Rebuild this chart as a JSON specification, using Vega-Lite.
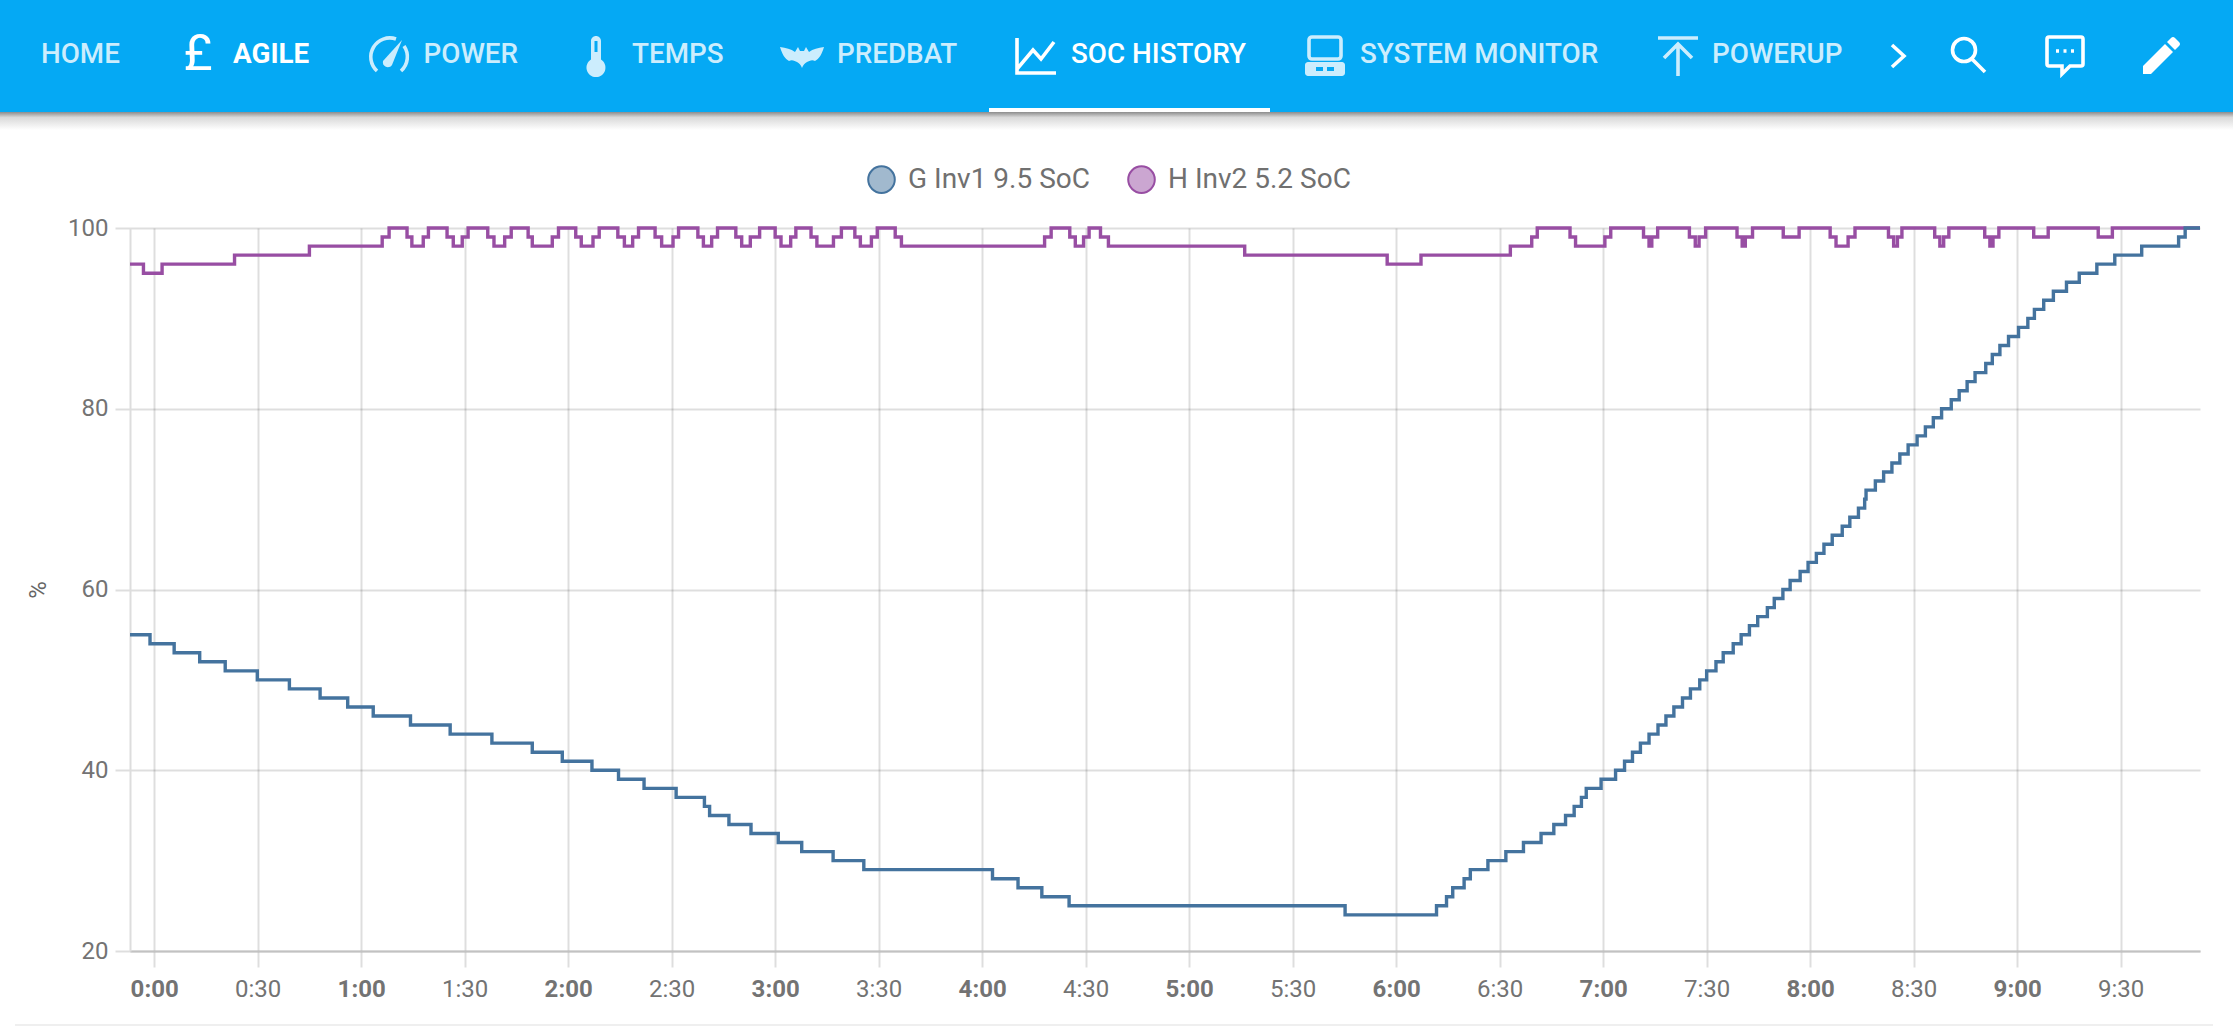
{
  "$schema": "https://vega.github.io/schema/vega-lite/v6.json",
  "width": 2070,
  "height": 723,
  "autosize": {"type": "none"},
  "padding": {"left": 130, "top": 228, "right": 33, "bottom": 76},
  "background": "#ffffff",
  "config": {
    "view": {"stroke": null},
    "font": "Roboto"
  },
  "datasets": {
    "soc": [
      {"series": "H Inv2 5.2 SoC", "minute": -7, "soc": 96},
      {"series": "H Inv2 5.2 SoC", "minute": -3.1, "soc": 95},
      {"series": "H Inv2 5.2 SoC", "minute": 2.3, "soc": 96},
      {"series": "H Inv2 5.2 SoC", "minute": 23.3, "soc": 97},
      {"series": "H Inv2 5.2 SoC", "minute": 45, "soc": 98},
      {"series": "H Inv2 5.2 SoC", "minute": 66.1, "soc": 99},
      {"series": "H Inv2 5.2 SoC", "minute": 68.1, "soc": 100},
      {"series": "H Inv2 5.2 SoC", "minute": 73.3, "soc": 99},
      {"series": "H Inv2 5.2 SoC", "minute": 74.7, "soc": 98},
      {"series": "H Inv2 5.2 SoC", "minute": 78, "soc": 99},
      {"series": "H Inv2 5.2 SoC", "minute": 79.5, "soc": 100},
      {"series": "H Inv2 5.2 SoC", "minute": 84.9, "soc": 99},
      {"series": "H Inv2 5.2 SoC", "minute": 86.7, "soc": 98},
      {"series": "H Inv2 5.2 SoC", "minute": 89.3, "soc": 99},
      {"series": "H Inv2 5.2 SoC", "minute": 91, "soc": 100},
      {"series": "H Inv2 5.2 SoC", "minute": 96.7, "soc": 99},
      {"series": "H Inv2 5.2 SoC", "minute": 98.5, "soc": 98},
      {"series": "H Inv2 5.2 SoC", "minute": 101.6, "soc": 99},
      {"series": "H Inv2 5.2 SoC", "minute": 103.5, "soc": 100},
      {"series": "H Inv2 5.2 SoC", "minute": 108.4, "soc": 99},
      {"series": "H Inv2 5.2 SoC", "minute": 109.6, "soc": 98},
      {"series": "H Inv2 5.2 SoC", "minute": 115.4, "soc": 99},
      {"series": "H Inv2 5.2 SoC", "minute": 117.2, "soc": 100},
      {"series": "H Inv2 5.2 SoC", "minute": 122.2, "soc": 99},
      {"series": "H Inv2 5.2 SoC", "minute": 123.8, "soc": 98},
      {"series": "H Inv2 5.2 SoC", "minute": 127.2, "soc": 99},
      {"series": "H Inv2 5.2 SoC", "minute": 129, "soc": 100},
      {"series": "H Inv2 5.2 SoC", "minute": 134.4, "soc": 99},
      {"series": "H Inv2 5.2 SoC", "minute": 136.3, "soc": 98},
      {"series": "H Inv2 5.2 SoC", "minute": 138.7, "soc": 99},
      {"series": "H Inv2 5.2 SoC", "minute": 140.4, "soc": 100},
      {"series": "H Inv2 5.2 SoC", "minute": 145.2, "soc": 99},
      {"series": "H Inv2 5.2 SoC", "minute": 147.1, "soc": 98},
      {"series": "H Inv2 5.2 SoC", "minute": 150.4, "soc": 99},
      {"series": "H Inv2 5.2 SoC", "minute": 152, "soc": 100},
      {"series": "H Inv2 5.2 SoC", "minute": 157.6, "soc": 99},
      {"series": "H Inv2 5.2 SoC", "minute": 159.2, "soc": 98},
      {"series": "H Inv2 5.2 SoC", "minute": 161.6, "soc": 99},
      {"series": "H Inv2 5.2 SoC", "minute": 163.3, "soc": 100},
      {"series": "H Inv2 5.2 SoC", "minute": 168.6, "soc": 99},
      {"series": "H Inv2 5.2 SoC", "minute": 170.3, "soc": 98},
      {"series": "H Inv2 5.2 SoC", "minute": 172.8, "soc": 99},
      {"series": "H Inv2 5.2 SoC", "minute": 175.5, "soc": 100},
      {"series": "H Inv2 5.2 SoC", "minute": 180, "soc": 99},
      {"series": "H Inv2 5.2 SoC", "minute": 181.7, "soc": 98},
      {"series": "H Inv2 5.2 SoC", "minute": 184.5, "soc": 99},
      {"series": "H Inv2 5.2 SoC", "minute": 186, "soc": 100},
      {"series": "H Inv2 5.2 SoC", "minute": 190.4, "soc": 99},
      {"series": "H Inv2 5.2 SoC", "minute": 192.1, "soc": 98},
      {"series": "H Inv2 5.2 SoC", "minute": 196.9, "soc": 99},
      {"series": "H Inv2 5.2 SoC", "minute": 199.2, "soc": 100},
      {"series": "H Inv2 5.2 SoC", "minute": 203.1, "soc": 99},
      {"series": "H Inv2 5.2 SoC", "minute": 204.7, "soc": 98},
      {"series": "H Inv2 5.2 SoC", "minute": 207.9, "soc": 99},
      {"series": "H Inv2 5.2 SoC", "minute": 209.6, "soc": 100},
      {"series": "H Inv2 5.2 SoC", "minute": 214.8, "soc": 99},
      {"series": "H Inv2 5.2 SoC", "minute": 216.6, "soc": 98},
      {"series": "H Inv2 5.2 SoC", "minute": 258.1, "soc": 99},
      {"series": "H Inv2 5.2 SoC", "minute": 260, "soc": 100},
      {"series": "H Inv2 5.2 SoC", "minute": 265.4, "soc": 99},
      {"series": "H Inv2 5.2 SoC", "minute": 267, "soc": 98},
      {"series": "H Inv2 5.2 SoC", "minute": 269.4, "soc": 99},
      {"series": "H Inv2 5.2 SoC", "minute": 271, "soc": 100},
      {"series": "H Inv2 5.2 SoC", "minute": 274.3, "soc": 99},
      {"series": "H Inv2 5.2 SoC", "minute": 276.6, "soc": 98},
      {"series": "H Inv2 5.2 SoC", "minute": 316.1, "soc": 97},
      {"series": "H Inv2 5.2 SoC", "minute": 357.4, "soc": 96},
      {"series": "H Inv2 5.2 SoC", "minute": 367.2, "soc": 97},
      {"series": "H Inv2 5.2 SoC", "minute": 393.1, "soc": 98},
      {"series": "H Inv2 5.2 SoC", "minute": 399.3, "soc": 99},
      {"series": "H Inv2 5.2 SoC", "minute": 400.9, "soc": 100},
      {"series": "H Inv2 5.2 SoC", "minute": 410.4, "soc": 99},
      {"series": "H Inv2 5.2 SoC", "minute": 412, "soc": 98},
      {"series": "H Inv2 5.2 SoC", "minute": 420.5, "soc": 99},
      {"series": "H Inv2 5.2 SoC", "minute": 422.2, "soc": 100},
      {"series": "H Inv2 5.2 SoC", "minute": 431.7, "soc": 99},
      {"series": "H Inv2 5.2 SoC", "minute": 433.3, "soc": 98},
      {"series": "H Inv2 5.2 SoC", "minute": 434.1, "soc": 99},
      {"series": "H Inv2 5.2 SoC", "minute": 435.8, "soc": 100},
      {"series": "H Inv2 5.2 SoC", "minute": 445, "soc": 99},
      {"series": "H Inv2 5.2 SoC", "minute": 446.7, "soc": 98},
      {"series": "H Inv2 5.2 SoC", "minute": 447.8, "soc": 99},
      {"series": "H Inv2 5.2 SoC", "minute": 449.7, "soc": 100},
      {"series": "H Inv2 5.2 SoC", "minute": 458.8, "soc": 99},
      {"series": "H Inv2 5.2 SoC", "minute": 460.3, "soc": 98},
      {"series": "H Inv2 5.2 SoC", "minute": 461.2, "soc": 99},
      {"series": "H Inv2 5.2 SoC", "minute": 463.3, "soc": 100},
      {"series": "H Inv2 5.2 SoC", "minute": 472.2, "soc": 99},
      {"series": "H Inv2 5.2 SoC", "minute": 476.8, "soc": 100},
      {"series": "H Inv2 5.2 SoC", "minute": 485.8, "soc": 99},
      {"series": "H Inv2 5.2 SoC", "minute": 487.5, "soc": 98},
      {"series": "H Inv2 5.2 SoC", "minute": 491, "soc": 99},
      {"series": "H Inv2 5.2 SoC", "minute": 493, "soc": 100},
      {"series": "H Inv2 5.2 SoC", "minute": 502.7, "soc": 99},
      {"series": "H Inv2 5.2 SoC", "minute": 504.2, "soc": 98},
      {"series": "H Inv2 5.2 SoC", "minute": 505.3, "soc": 99},
      {"series": "H Inv2 5.2 SoC", "minute": 506.6, "soc": 100},
      {"series": "H Inv2 5.2 SoC", "minute": 516.1, "soc": 99},
      {"series": "H Inv2 5.2 SoC", "minute": 517.6, "soc": 98},
      {"series": "H Inv2 5.2 SoC", "minute": 518.7, "soc": 99},
      {"series": "H Inv2 5.2 SoC", "minute": 520.2, "soc": 100},
      {"series": "H Inv2 5.2 SoC", "minute": 530.6, "soc": 99},
      {"series": "H Inv2 5.2 SoC", "minute": 532.1, "soc": 98},
      {"series": "H Inv2 5.2 SoC", "minute": 533, "soc": 99},
      {"series": "H Inv2 5.2 SoC", "minute": 534.7, "soc": 100},
      {"series": "H Inv2 5.2 SoC", "minute": 544.8, "soc": 99},
      {"series": "H Inv2 5.2 SoC", "minute": 549, "soc": 100},
      {"series": "H Inv2 5.2 SoC", "minute": 563.5, "soc": 99},
      {"series": "H Inv2 5.2 SoC", "minute": 567.6, "soc": 100},
      {"series": "H Inv2 5.2 SoC", "minute": 593, "soc": 100},
      {"series": "G Inv1 9.5 SoC", "minute": -7, "soc": 55},
      {"series": "G Inv1 9.5 SoC", "minute": -1.2, "soc": 54},
      {"series": "G Inv1 9.5 SoC", "minute": 5.8, "soc": 53},
      {"series": "G Inv1 9.5 SoC", "minute": 13.2, "soc": 52},
      {"series": "G Inv1 9.5 SoC", "minute": 20.6, "soc": 51},
      {"series": "G Inv1 9.5 SoC", "minute": 29.9, "soc": 50},
      {"series": "G Inv1 9.5 SoC", "minute": 39.2, "soc": 49},
      {"series": "G Inv1 9.5 SoC", "minute": 48.1, "soc": 48},
      {"series": "G Inv1 9.5 SoC", "minute": 56.1, "soc": 47},
      {"series": "G Inv1 9.5 SoC", "minute": 63.5, "soc": 46},
      {"series": "G Inv1 9.5 SoC", "minute": 74.3, "soc": 45},
      {"series": "G Inv1 9.5 SoC", "minute": 85.8, "soc": 44},
      {"series": "G Inv1 9.5 SoC", "minute": 97.9, "soc": 43},
      {"series": "G Inv1 9.5 SoC", "minute": 109.6, "soc": 42},
      {"series": "G Inv1 9.5 SoC", "minute": 118.3, "soc": 41},
      {"series": "G Inv1 9.5 SoC", "minute": 126.9, "soc": 40},
      {"series": "G Inv1 9.5 SoC", "minute": 134.6, "soc": 39},
      {"series": "G Inv1 9.5 SoC", "minute": 142, "soc": 38},
      {"series": "G Inv1 9.5 SoC", "minute": 151.3, "soc": 37},
      {"series": "G Inv1 9.5 SoC", "minute": 159.5, "soc": 36},
      {"series": "G Inv1 9.5 SoC", "minute": 161, "soc": 35},
      {"series": "G Inv1 9.5 SoC", "minute": 166.6, "soc": 34},
      {"series": "G Inv1 9.5 SoC", "minute": 173, "soc": 33},
      {"series": "G Inv1 9.5 SoC", "minute": 180.9, "soc": 32},
      {"series": "G Inv1 9.5 SoC", "minute": 187.7, "soc": 31},
      {"series": "G Inv1 9.5 SoC", "minute": 196.8, "soc": 30},
      {"series": "G Inv1 9.5 SoC", "minute": 205.7, "soc": 29},
      {"series": "G Inv1 9.5 SoC", "minute": 243, "soc": 28},
      {"series": "G Inv1 9.5 SoC", "minute": 250.4, "soc": 27},
      {"series": "G Inv1 9.5 SoC", "minute": 257.3, "soc": 26},
      {"series": "G Inv1 9.5 SoC", "minute": 265.2, "soc": 25},
      {"series": "G Inv1 9.5 SoC", "minute": 345.2, "soc": 24},
      {"series": "G Inv1 9.5 SoC", "minute": 371.7, "soc": 25},
      {"series": "G Inv1 9.5 SoC", "minute": 374.6, "soc": 26},
      {"series": "G Inv1 9.5 SoC", "minute": 376.4, "soc": 27},
      {"series": "G Inv1 9.5 SoC", "minute": 379.7, "soc": 28},
      {"series": "G Inv1 9.5 SoC", "minute": 381.5, "soc": 29},
      {"series": "G Inv1 9.5 SoC", "minute": 386.6, "soc": 30},
      {"series": "G Inv1 9.5 SoC", "minute": 391.8, "soc": 31},
      {"series": "G Inv1 9.5 SoC", "minute": 396.9, "soc": 32},
      {"series": "G Inv1 9.5 SoC", "minute": 402, "soc": 33},
      {"series": "G Inv1 9.5 SoC", "minute": 405.7, "soc": 34},
      {"series": "G Inv1 9.5 SoC", "minute": 409.1, "soc": 35},
      {"series": "G Inv1 9.5 SoC", "minute": 411.6, "soc": 36},
      {"series": "G Inv1 9.5 SoC", "minute": 413.7, "soc": 37},
      {"series": "G Inv1 9.5 SoC", "minute": 415.1, "soc": 38},
      {"series": "G Inv1 9.5 SoC", "minute": 419.4, "soc": 39},
      {"series": "G Inv1 9.5 SoC", "minute": 423.6, "soc": 40},
      {"series": "G Inv1 9.5 SoC", "minute": 426.2, "soc": 41},
      {"series": "G Inv1 9.5 SoC", "minute": 428.5, "soc": 42},
      {"series": "G Inv1 9.5 SoC", "minute": 430.8, "soc": 43},
      {"series": "G Inv1 9.5 SoC", "minute": 433.3, "soc": 44},
      {"series": "G Inv1 9.5 SoC", "minute": 435.9, "soc": 45},
      {"series": "G Inv1 9.5 SoC", "minute": 438.2, "soc": 46},
      {"series": "G Inv1 9.5 SoC", "minute": 440.5, "soc": 47},
      {"series": "G Inv1 9.5 SoC", "minute": 443, "soc": 48},
      {"series": "G Inv1 9.5 SoC", "minute": 445.3, "soc": 49},
      {"series": "G Inv1 9.5 SoC", "minute": 448, "soc": 50},
      {"series": "G Inv1 9.5 SoC", "minute": 450, "soc": 51},
      {"series": "G Inv1 9.5 SoC", "minute": 452.7, "soc": 52},
      {"series": "G Inv1 9.5 SoC", "minute": 454.8, "soc": 53},
      {"series": "G Inv1 9.5 SoC", "minute": 457.7, "soc": 54},
      {"series": "G Inv1 9.5 SoC", "minute": 460, "soc": 55},
      {"series": "G Inv1 9.5 SoC", "minute": 462.4, "soc": 56},
      {"series": "G Inv1 9.5 SoC", "minute": 464.8, "soc": 57},
      {"series": "G Inv1 9.5 SoC", "minute": 467.6, "soc": 58},
      {"series": "G Inv1 9.5 SoC", "minute": 469.6, "soc": 59},
      {"series": "G Inv1 9.5 SoC", "minute": 472.1, "soc": 60},
      {"series": "G Inv1 9.5 SoC", "minute": 474.2, "soc": 61},
      {"series": "G Inv1 9.5 SoC", "minute": 477.1, "soc": 62},
      {"series": "G Inv1 9.5 SoC", "minute": 479.4, "soc": 63},
      {"series": "G Inv1 9.5 SoC", "minute": 481.8, "soc": 64},
      {"series": "G Inv1 9.5 SoC", "minute": 484, "soc": 65},
      {"series": "G Inv1 9.5 SoC", "minute": 486.4, "soc": 66},
      {"series": "G Inv1 9.5 SoC", "minute": 489.3, "soc": 67},
      {"series": "G Inv1 9.5 SoC", "minute": 491.5, "soc": 68},
      {"series": "G Inv1 9.5 SoC", "minute": 494, "soc": 69},
      {"series": "G Inv1 9.5 SoC", "minute": 495.8, "soc": 70},
      {"series": "G Inv1 9.5 SoC", "minute": 496.2, "soc": 71},
      {"series": "G Inv1 9.5 SoC", "minute": 498.9, "soc": 72},
      {"series": "G Inv1 9.5 SoC", "minute": 501.3, "soc": 73},
      {"series": "G Inv1 9.5 SoC", "minute": 503.7, "soc": 74},
      {"series": "G Inv1 9.5 SoC", "minute": 506, "soc": 75},
      {"series": "G Inv1 9.5 SoC", "minute": 508.4, "soc": 76},
      {"series": "G Inv1 9.5 SoC", "minute": 511, "soc": 77},
      {"series": "G Inv1 9.5 SoC", "minute": 513.4, "soc": 78},
      {"series": "G Inv1 9.5 SoC", "minute": 515.7, "soc": 79},
      {"series": "G Inv1 9.5 SoC", "minute": 518.1, "soc": 80},
      {"series": "G Inv1 9.5 SoC", "minute": 520.9, "soc": 81},
      {"series": "G Inv1 9.5 SoC", "minute": 523.2, "soc": 82},
      {"series": "G Inv1 9.5 SoC", "minute": 525.5, "soc": 83},
      {"series": "G Inv1 9.5 SoC", "minute": 527.8, "soc": 84},
      {"series": "G Inv1 9.5 SoC", "minute": 530.9, "soc": 85},
      {"series": "G Inv1 9.5 SoC", "minute": 532.8, "soc": 86},
      {"series": "G Inv1 9.5 SoC", "minute": 535, "soc": 87},
      {"series": "G Inv1 9.5 SoC", "minute": 537.5, "soc": 88},
      {"series": "G Inv1 9.5 SoC", "minute": 540.4, "soc": 89},
      {"series": "G Inv1 9.5 SoC", "minute": 543.1, "soc": 90},
      {"series": "G Inv1 9.5 SoC", "minute": 545, "soc": 91},
      {"series": "G Inv1 9.5 SoC", "minute": 547.7, "soc": 92},
      {"series": "G Inv1 9.5 SoC", "minute": 550.5, "soc": 93},
      {"series": "G Inv1 9.5 SoC", "minute": 554.3, "soc": 94},
      {"series": "G Inv1 9.5 SoC", "minute": 558, "soc": 95},
      {"series": "G Inv1 9.5 SoC", "minute": 563.1, "soc": 96},
      {"series": "G Inv1 9.5 SoC", "minute": 568.3, "soc": 97},
      {"series": "G Inv1 9.5 SoC", "minute": 576.1, "soc": 98},
      {"series": "G Inv1 9.5 SoC", "minute": 586.8, "soc": 99},
      {"series": "G Inv1 9.5 SoC", "minute": 588.7, "soc": 100},
      {"series": "G Inv1 9.5 SoC", "minute": 593, "soc": 100}
    ],
    "tabs": [
      {"tab": "HOME", "slot": 0},
      {"tab": "POWER", "slot": 1},
      {"tab": "TEMPS", "slot": 2},
      {"tab": "PREDBAT", "slot": 3},
      {"tab": "SOC HISTORY", "slot": 4},
      {"tab": "SYSTEM MONITOR", "slot": 5},
      {"tab": "POWERUP", "slot": 6}
    ],
    "outlineIcons": [
      {"icon": "gauge", "slot": 0},
      {"icon": "chart", "slot": 1},
      {"icon": "monitor", "slot": 2},
      {"icon": "upload", "slot": 3},
      {"icon": "chevron", "slot": 4},
      {"icon": "search", "slot": 5},
      {"icon": "comment", "slot": 6}
    ],
    "solidIcons": [
      {"icon": "needle", "slot": 0},
      {"icon": "thermometer", "slot": 1},
      {"icon": "bat", "slot": 2},
      {"icon": "tower", "slot": 3},
      {"icon": "pencil", "slot": 4}
    ]
  },
  "resolve": {
    "scale": {"x": "independent", "y": "independent", "color": "independent", "shape": "independent"},
    "axis": {"x": "independent", "y": "independent"},
    "legend": {"color": "independent", "shape": "independent"}
  },
  "layer": [
    {
      "data": {"name": "soc"},
      "mark": {"type": "line", "interpolate": "step-after", "strokeWidth": 3.4},
      "encoding": {
        "x": {
          "field": "minute",
          "type": "quantitative",
          "scale": {"domain": [-7, 593], "nice": false, "zero": false},
          "axis": {
            "title": null,
            "values": [0, 30, 60, 90, 120, 150, 180, 210, 240, 270, 300, 330, 360, 390, 420, 450, 480, 510, 540, 570],
            "labelExpr": "floor(datum.value / 60) + ':' + (datum.value % 60 === 0 ? '00' : '30')",
            "labelFontWeight": {"condition": {"test": "datum.value % 60 === 0", "value": "bold"}, "value": "normal"},
            "labelFont": "Roboto",
            "labelFontSize": 24,
            "labelColor": "#737373",
            "labelPadding": 10,
            "labelOverlap": false,
            "labelFlush": false,
            "grid": true,
            "gridColor": "#000000",
            "gridOpacity": 0.13,
            "gridWidth": 2,
            "tickSize": 16,
            "tickColor": "#000000",
            "tickOpacity": 0.13,
            "tickWidth": 2,
            "domainColor": "#c2c2c2",
            "domainWidth": 2
          }
        },
        "y": {
          "field": "soc",
          "type": "quantitative",
          "scale": {"domain": [20, 100], "nice": false, "zero": false},
          "axis": {
            "title": "%",
            "titleFont": "Roboto",
            "titleFontSize": 24,
            "titleFontWeight": "normal",
            "titleColor": "#666666",
            "titleX": -80,
            "values": [20, 40, 60, 80, 100],
            "labelFont": "Roboto",
            "labelFontSize": 24,
            "labelColor": "#737373",
            "labelPadding": 7,
            "grid": true,
            "gridColor": "#000000",
            "gridOpacity": 0.13,
            "gridWidth": 2,
            "tickSize": 15,
            "tickColor": "#000000",
            "tickOpacity": 0.13,
            "tickWidth": 2,
            "domainColor": "#dddddd",
            "domainWidth": 2
          }
        },
        "color": {
          "field": "series",
          "type": "nominal",
          "scale": {"domain": ["G Inv1 9.5 SoC", "H Inv2 5.2 SoC"], "range": ["#44739e", "#984ea3"]},
          "legend": {
            "title": null,
            "orient": "none",
            "legendX": 737,
            "legendY": -63,
            "direction": "horizontal",
            "columns": 2,
            "columnPadding": 34,
            "symbolType": "circle",
            "symbolSize": 707,
            "symbolStrokeWidth": 2,
            "labelFont": "Roboto",
            "labelFontSize": 28,
            "labelColor": "#707070",
            "labelOffset": 12,
            "labelLimit": 400,
            "encoding": {
              "symbols": {
                "fill": {"value": {"expr": "datum.value === 'G Inv1 9.5 SoC' ? '#a1b9ce' : '#cba6d1'"}},
                "strokeWidth": {"value": 2},
                "opacity": {"value": 1}
              }
            }
          }
        }
      }
    },
    {
      "data": {"values": [{"part": "shadow"}]},
      "mark": {
        "type": "rect",
        "color": {
          "gradient": "linear",
          "x1": 0, "y1": 0, "x2": 0, "y2": 1,
          "stops": [
            {"offset": 0, "color": "#8c8c8c"},
            {"offset": 0.3, "color": "#d9d9d9"},
            {"offset": 1, "color": "#ffffff"}
          ]
        }
      },
      "encoding": {
        "x": {"field": "part", "type": "nominal", "axis": null, "scale": {"type": "band", "domain": ["shadow"], "range": [-130, 2103], "paddingInner": 0, "paddingOuter": 0}},
        "y": {"field": "part", "type": "nominal", "axis": null, "scale": {"type": "band", "domain": ["shadow"], "range": [-116, -98], "paddingInner": 0, "paddingOuter": 0}}
      }
    },
    {
      "data": {"values": [{"part": "bar"}]},
      "mark": {"type": "rect", "color": "#05a9f4"},
      "encoding": {
        "x": {"field": "part", "type": "nominal", "axis": null, "scale": {"type": "band", "domain": ["bar"], "range": [-130, 2103], "paddingInner": 0, "paddingOuter": 0}},
        "y": {"field": "part", "type": "nominal", "axis": null, "scale": {"type": "band", "domain": ["bar"], "range": [-228, -116], "paddingInner": 0, "paddingOuter": 0}}
      }
    },
    {
      "data": {"values": [{"part": "underline"}]},
      "mark": {"type": "rect", "color": "#ffffff"},
      "encoding": {
        "x": {"field": "part", "type": "nominal", "axis": null, "scale": {"type": "band", "domain": ["underline"], "range": [859, 1140], "paddingInner": 0, "paddingOuter": 0}},
        "y": {"field": "part", "type": "nominal", "axis": null, "scale": {"type": "band", "domain": ["underline"], "range": [-120, -116], "paddingInner": 0, "paddingOuter": 0}}
      }
    },
    {
      "data": {"values": [{"part": "cardline"}]},
      "mark": {"type": "rect", "color": "#efefef"},
      "encoding": {
        "x": {"field": "part", "type": "nominal", "axis": null, "scale": {"type": "band", "domain": ["cardline"], "range": [-115, 2083], "paddingInner": 0, "paddingOuter": 0}},
        "y": {"field": "part", "type": "nominal", "axis": null, "scale": {"type": "band", "domain": ["cardline"], "range": [796, 798], "paddingInner": 0, "paddingOuter": 0}}
      }
    },
    {
      "data": {"name": "tabs"},
      "mark": {"type": "text", "font": "Roboto", "fontSize": 27.8, "fontWeight": 500, "align": "left", "baseline": "middle"},
      "encoding": {
        "text": {"field": "tab"},
        "x": {"field": "slot", "type": "quantitative", "axis": null, "scale": {"domain": [0, 1, 2, 3, 4, 5, 6], "range": [-89, 293.5, 502, 707, 941, 1230, 1582], "zero": false, "nice": false}},
        "y": {"datum": "nav", "type": "nominal", "axis": null, "scale": {"type": "point", "domain": ["nav"], "range": [-173, -173]}},
        "color": {
          "field": "tab",
          "type": "nominal",
          "legend": null,
          "scale": {
            "domain": ["HOME", "POWER", "TEMPS", "PREDBAT", "SOC HISTORY", "SYSTEM MONITOR", "POWERUP"],
            "range": ["#ccedfd", "#ccedfd", "#ccedfd", "#ccedfd", "#ffffff", "#ccedfd", "#ccedfd"]
          }
        }
      }
    },
    {
      "data": {"values": [{"tab": "AGILE"}]},
      "mark": {"type": "text", "font": "Roboto", "fontSize": 27.8, "fontWeight": "bold", "align": "left", "baseline": "middle", "color": "#ffffff"},
      "encoding": {
        "text": {"field": "tab"},
        "x": {"field": "tab", "type": "nominal", "axis": null, "scale": {"type": "point", "domain": ["AGILE"], "range": [103, 103]}},
        "y": {"datum": "nav", "type": "nominal", "axis": null, "scale": {"type": "point", "domain": ["nav"], "range": [-173, -173]}}
      }
    },
    {
      "data": {"values": [{"tab": "£"}]},
      "mark": {"type": "text", "font": "Roboto", "fontSize": 50, "align": "center", "baseline": "middle", "color": "#ffffff"},
      "encoding": {
        "text": {"field": "tab"},
        "x": {"field": "tab", "type": "nominal", "axis": null, "scale": {"type": "point", "domain": ["£"], "range": [68, 68]}},
        "y": {"datum": "nav", "type": "nominal", "axis": null, "scale": {"type": "point", "domain": ["nav"], "range": [-173, -173]}}
      }
    },
    {
      "data": {"name": "outlineIcons"},
      "mark": {"type": "point", "filled": false, "size": 4, "strokeWidth": 3.6, "opacity": 1},
      "encoding": {
        "x": {"field": "slot", "type": "quantitative", "axis": null, "scale": {"domain": [0, 1, 2, 3, 4, 5, 6], "range": [259, 906, 1195, 1548, 1768, 1838, 1935], "zero": false, "nice": false}},
        "y": {"datum": "nav", "type": "nominal", "axis": null, "scale": {"type": "point", "domain": ["nav"], "range": [-172, -172]}},
        "color": {
          "field": "icon",
          "type": "nominal",
          "legend": null,
          "scale": {
            "domain": ["gauge", "chart", "monitor", "upload", "chevron", "search", "comment"],
            "range": ["#ccedfd", "#ffffff", "#ccedfd", "#ccedfd", "#ffffff", "#ffffff", "#ffffff"]
          }
        },
        "shape": {
          "field": "icon",
          "type": "nominal",
          "legend": null,
          "scale": {
            "domain": ["gauge", "chart", "monitor", "upload", "chevron", "search", "comment"],
            "range": [
              "M-12,15A19,19 0 0,1 7,-17M15,-10A19,19 0 0,1 12,15",
              "M-19,-18V17H20M-19,13L-3,-6L5,3L18,-14",
              "M-13,-19H13A3,3 0 0,1 16,-16V0A3,3 0 0,1 13,3H-13A3,3 0 0,1 -16,0V-16A3,3 0 0,1 -13,-19Z",
              "M-20,-18H20M0,20V-12M-14,2L0,-12L14,2",
              "M-6,-11L6,0L-6,11",
              "M-15.5,-6A11.5,11.5 0 1,1 7.5,-6A11.5,11.5 0 1,1 -15.5,-6ZM4,3L17,16",
              "M-16,-19H16A2,2 0 0,1 18,-17V8A2,2 0 0,1 16,10H5L-3,18V10H-16A2,2 0 0,1 -18,8V-17A2,2 0 0,1 -16,-19ZM-9,-5H-6M-1.5,-5H1.5M6,-5H9"
            ]
          }
        }
      }
    },
    {
      "data": {"name": "solidIcons"},
      "mark": {"type": "point", "filled": true, "size": 4, "opacity": 1},
      "encoding": {
        "x": {"field": "slot", "type": "quantitative", "axis": null, "scale": {"domain": [0, 1, 2, 3, 4], "range": [259, 466, 672, 1195, 2031], "zero": false, "nice": false}},
        "y": {"datum": "nav", "type": "nominal", "axis": null, "scale": {"type": "point", "domain": ["nav"], "range": [-172, -172]}},
        "color": {
          "field": "icon",
          "type": "nominal",
          "legend": null,
          "scale": {
            "domain": ["needle", "thermometer", "bat", "tower", "pencil"],
            "range": ["#ccedfd", "#ccedfd", "#ccedfd", "#ccedfd", "#ffffff"]
          }
        },
        "shape": {
          "field": "icon",
          "type": "nominal",
          "legend": null,
          "scale": {
            "domain": ["needle", "thermometer", "bat", "tower", "pencil"],
            "range": [
              "M13,-16L3,9A5,5 0 0,1 -6,5Z",
              "M-5,-15A5,5 0 0,1 5,-15V3.5A9.5,9.5 0 1,1 -5,3.5ZM-1.5,-15V-4H1.5V-15Z",
              "M-22,-9C-16,-8 -11,-7 -7,-4L-4,-9L-2,-5H2L4,-9L7,-4C11,-7 16,-8 22,-9C20,-2 17,3 13,5C10,3 7,5 5,6C3,7 1,9 0,12C-1,9 -3,7 -5,6C-7,5 -10,3 -13,5C-17,3 -20,-2 -22,-9Z",
              "M-17,6H17A3,3 0 0,1 20,9V17A3,3 0 0,1 17,20H-17A3,3 0 0,1 -20,17V9A3,3 0 0,1 -17,6ZM-9,11V15H-2V11ZM2,11V15H9V11Z",
              "M-18,10V18H-10L12,-4L4,-12ZM6,-14L10,-18Q12,-20 14,-18L18,-14Q20,-12 18,-10L14,-6Z"
            ]
          }
        }
      }
    }
  ]
}
